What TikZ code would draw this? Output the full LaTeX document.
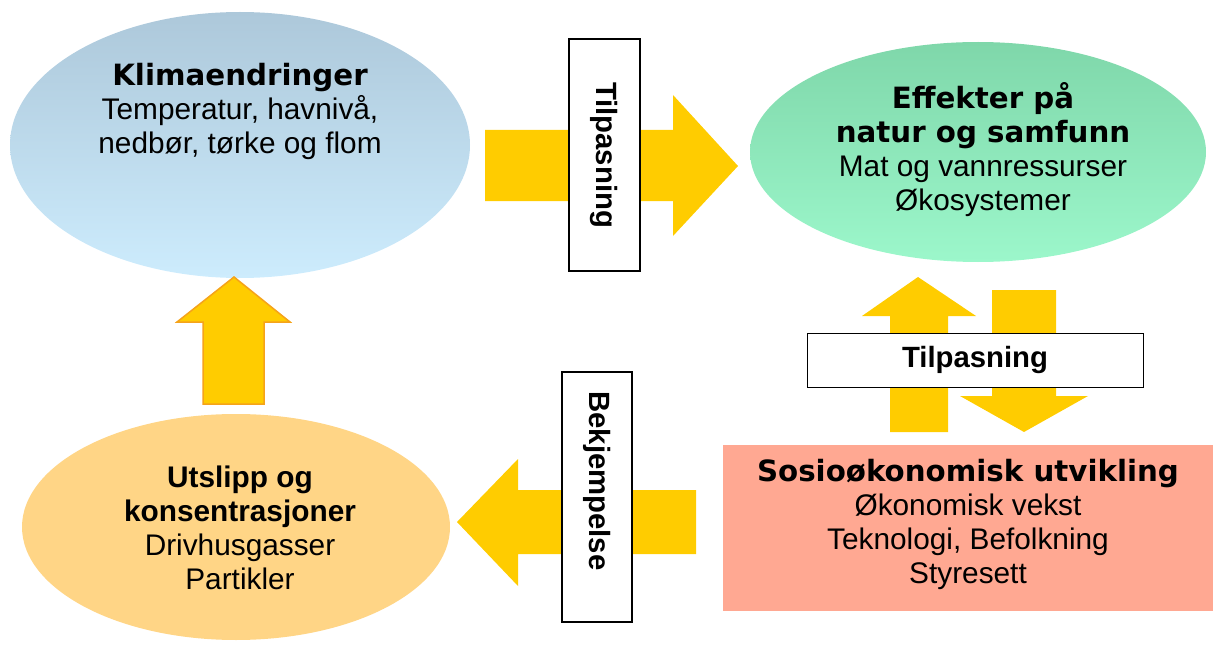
\documentclass[tikz,border=0pt]{standalone}
\usepackage{fontspec}
\setmainfont{Liberation Sans}
\newfontfamily\headfont{DejaVu Sans}
\usepackage{tikz}
\usepackage{xcolor}
\usetikzlibrary{positioning, shapes.geometric}

\definecolor{arrowyellow}{HTML}{FFCC00}
\definecolor{arroworange}{HTML}{F5A31A}
\definecolor{klimatop}{HTML}{ADC8DA}
\definecolor{klimabot}{HTML}{CDECFD}
\definecolor{effekttop}{HTML}{7FD7AA}
\definecolor{effektbot}{HTML}{9CF7CB}
\definecolor{utslippfill}{HTML}{FFD586}
\definecolor{sosiofill}{HTML}{FFA892}

\newcommand{\headline}[1]{{\headfont\bfseries\fontsize{29.3}{34}\selectfont #1}}

\tikzset{
    bodytext/.style={align=center, font=\fontsize{29.8}{34}\selectfont},
    labelbox/.style={draw=black, fill=white, line width=1.6pt, inner sep=0pt},
    labeltext/.style={font=\fontsize{29.3}{34}\selectfont\bfseries, inner sep=0pt},
    blockarrow/.style={fill=arrowyellow}
}

\begin{document}
\begin{tikzpicture}[x=1pt, y=-1pt]
    \useasboundingbox (0,0) rectangle (1216,650);

    % Klimaendringer - blue ellipse top left
    \node[ellipse, top color=klimatop, bottom color=klimabot, minimum width=460, minimum height=266, inner sep=0pt] (klima) at (240,145) {};
    \node[bodytext] (klimatext) at (240,111) {\headline{Klimaendringer}\\Temperatur, havnivå,\\nedbør, tørke og flom};

    % Effekter - green ellipse top right
    \node[ellipse, top color=effekttop, bottom color=effektbot, minimum width=456, minimum height=220, inner sep=0pt] (effekt) at (978,152) {};
    \node[bodytext] (effekttext) at (983,150) {\headline{Effekter på}\\\headline{natur og samfunn}\\Mat og vannressurser\\Økosystemer};

    % Utslipp - orange ellipse bottom left
    \node[ellipse, fill=utslippfill, minimum width=428, minimum height=226, inner sep=0pt] (utslipp) at (236,527) {};
    \node[bodytext] (utslipptext) at (240,528) {\textbf{Utslipp og}\\\textbf{konsentrasjoner}\\Drivhusgasser\\Partikler};

    % Sosiookonomisk - salmon box bottom right
    \node[rectangle, fill=sosiofill, minimum width=490, minimum height=166, inner sep=0pt] (sosio) at (968,528) {};
    \node[bodytext] (sosiotext) at (968,524) {\headline{Sosioøkonomisk utvikling}\\Økonomisk vekst\\Teknologi, Befolkning\\Styresett};

    % Arrow right between top ellipses
    \fill[blockarrow] (485,130) -- (673,130) -- (673,95) -- (738,166) -- (673,236) -- (673,201) -- (485,201) -- cycle;
    \node[labelbox, rotate=-90, minimum width=232, minimum height=71] (tilpasA) at (604.5,155) {};
    \node[labeltext, rotate=-90] (tilpasAtext) at (tilpasA.center) {Tilpasning};

    % Arrows up and down on the right
    \fill[blockarrow] (890,432) -- (890,316) -- (862,316) -- (918,277) -- (976,316) -- (948,316) -- (948,432) -- cycle;
    \fill[blockarrow] (992,290) -- (1056,290) -- (1056,396) -- (1088,396) -- (1024,432) -- (960,396) -- (992,396) -- cycle;
    \node[labelbox, line width=1pt, minimum width=336, minimum height=54] (tilpasB) at (975,360) {};
    \node[labeltext] (tilpasBtext) at (tilpasB.center) {Tilpasning};

    % Arrow left between bottom shapes
    \fill[blockarrow] (696,490) -- (518,490) -- (518,459) -- (457,522) -- (518,586) -- (518,554) -- (696,554) -- cycle;
    \node[labelbox, minimum width=70, minimum height=250] (bekjemp) at (597,497) {};
    \node[labeltext, rotate=-90] (bekjemptext) at (597,481) {Bekjempelse};

    % Arrow up on the left
    \filldraw[blockarrow, draw=arroworange, line width=1.5pt, line join=miter] (203,404) -- (203,322) -- (177,322) -- (234,277) -- (290,322) -- (264,322) -- (264,404) -- cycle;
\end{tikzpicture}
\end{document}
